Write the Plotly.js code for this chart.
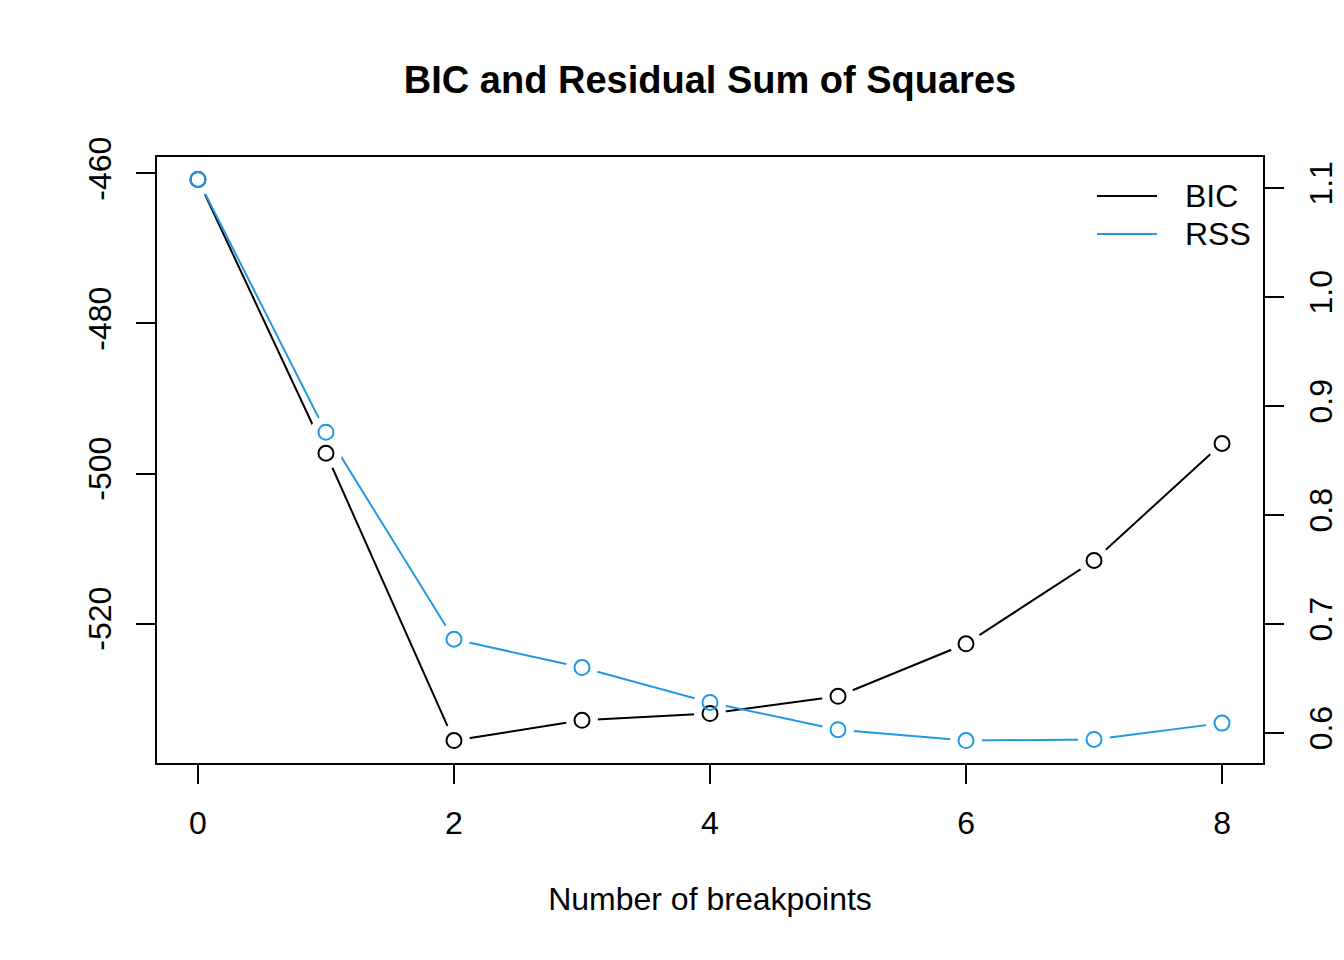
<!DOCTYPE html>
<html><head><meta charset="utf-8">
<script src="https://cdn.plot.ly/plotly-3.0.1.min.js"></script>
<style>html,body{margin:0;padding:0;background:#fff}</style>
</head><body>
<div id="chart" style="width:1344px;height:960px"></div>
<script>
const breakpoints = [0, 1, 2, 3, 4, 5, 6, 7, 8];
const bicValues = [-460.8, -497.3, -535.6, -532.9, -532.0, -529.7, -522.7, -511.6, -496.0];
const rssValues = [1.108, 0.876, 0.686, 0.660, 0.628, 0.603, 0.593, 0.594, 0.609];
const xTicks = [0, 2, 4, 6, 8];
const bicTicks = [-460, -480, -500, -520];
const rssTicks = [0.6, 0.7, 0.8, 0.9, 1.0, 1.1];
const rssTickText = ['0.6', '0.7', '0.8', '0.9', '1.0', '1.1'];
const legendLabels = ['BIC', 'RSS'];

const BLACK = '#000000';
const BLUE = '#2297E6';
const FONT = '"Liberation Sans", Arial, Helvetica, sans-serif';

function rRange(arr) {
  const lo = Math.min(...arr), hi = Math.max(...arr);
  const pad = 0.04 * (hi - lo);
  return [lo - pad, hi + pad];
}

const HALO = 32, PT = 15;
// Draw order (overlay axes stack in order y, y2, y3, y4):
// y: BIC line | y2: RSS line + RSS gap | y3: BIC gap + BIC circles | y4: RSS circles
const traces = [
  {x: breakpoints, y: bicValues, yaxis: 'y', mode: 'lines', line: {color: BLACK, width: 2}, showlegend: false, hoverinfo: 'skip'},
  {x: breakpoints, y: rssValues, yaxis: 'y2', mode: 'lines', line: {color: BLUE, width: 2}, showlegend: false, hoverinfo: 'skip'},
  {x: breakpoints, y: rssValues, yaxis: 'y2', mode: 'markers', marker: {symbol: 'circle', size: HALO, color: '#ffffff', line: {width: 0}}, showlegend: false, hoverinfo: 'skip'},
  {x: breakpoints, y: bicValues, yaxis: 'y3', mode: 'markers', marker: {symbol: 'circle', size: HALO, color: '#ffffff', line: {width: 0}}, showlegend: false, hoverinfo: 'skip'},
  {x: breakpoints, y: bicValues, yaxis: 'y3', mode: 'markers', marker: {symbol: 'circle-open', size: PT, color: BLACK, line: {width: 2}}, showlegend: false},
  {x: breakpoints, y: rssValues, yaxis: 'y4', mode: 'markers', marker: {symbol: 'circle-open', size: PT, color: BLUE, line: {width: 2}}, showlegend: false}
];

const L = 157, R = 1263, T = 157, B = 763, W = 1344, H = 960;
const px = v => (v - L) / (R - L);
const py = v => (B - v) / (B - T);

const axisCommon = {
  ticks: 'outside', ticklen: 19, tickwidth: 2, tickcolor: BLACK,
  showline: true, linewidth: 2, linecolor: BLACK,
  showgrid: false, zeroline: false,
  tickfont: {family: FONT, size: 32, color: BLACK}
};
const hiddenAxis = {visible: false, showgrid: false, zeroline: false, showline: false, showticklabels: false, ticks: ''};

const layout = {
  width: W, height: H,
  margin: {l: L, r: W - R, t: T, b: H - B, pad: 0},
  paper_bgcolor: '#ffffff', plot_bgcolor: '#ffffff',
  font: {family: FONT, color: BLACK},
  showlegend: false,
  title: {text: '<b>BIC and Residual Sum of Squares</b>', font: {family: FONT, size: 38, color: BLACK},
          x: 0.5, xanchor: 'center', y: 1 - 80 / H, yanchor: 'middle', xref: 'paper', yref: 'container'},
  xaxis: Object.assign({}, axisCommon, {
    range: rRange(breakpoints), tickvals: xTicks, ticktext: xTicks.map(String),
    mirror: true, ticklabelstandoff: 12,
    title: {text: 'Number of breakpoints', font: {family: FONT, size: 32, color: BLACK}, standoff: 47}
  }),
  yaxis: Object.assign({}, axisCommon, {
    range: rRange(bicValues), tickvals: bicTicks, ticktext: bicTicks.map(String),
    tickangle: -90, mirror: true, ticklabelstandoff: 12
  }),
  yaxis2: Object.assign({}, axisCommon, {
    range: rRange(rssValues), tickvals: rssTicks, ticktext: rssTickText,
    tickangle: -90, overlaying: 'y', side: 'right', ticklabelstandoff: 10
  }),
  yaxis3: Object.assign({}, hiddenAxis, {range: rRange(bicValues), overlaying: 'y'}),
  yaxis4: Object.assign({}, hiddenAxis, {range: rRange(rssValues), overlaying: 'y'}),
  shapes: [
    {type: 'line', xref: 'paper', yref: 'paper', x0: px(1097), x1: px(1157), y0: py(196), y1: py(196), line: {color: BLACK, width: 2}},
    {type: 'line', xref: 'paper', yref: 'paper', x0: px(1097), x1: px(1157), y0: py(234), y1: py(234), line: {color: BLUE, width: 2}}
  ],
  annotations: [
    {xref: 'paper', yref: 'paper', x: px(1183), y: py(196), text: legendLabels[0], showarrow: false, xanchor: 'left', yanchor: 'middle', font: {family: FONT, size: 32, color: BLACK}},
    {xref: 'paper', yref: 'paper', x: px(1183), y: py(234), text: legendLabels[1], showarrow: false, xanchor: 'left', yanchor: 'middle', font: {family: FONT, size: 32, color: BLACK}}
  ]
};

Plotly.newPlot('chart', traces, layout, {displayModeBar: false, staticPlot: true});
</script>
</body></html>
